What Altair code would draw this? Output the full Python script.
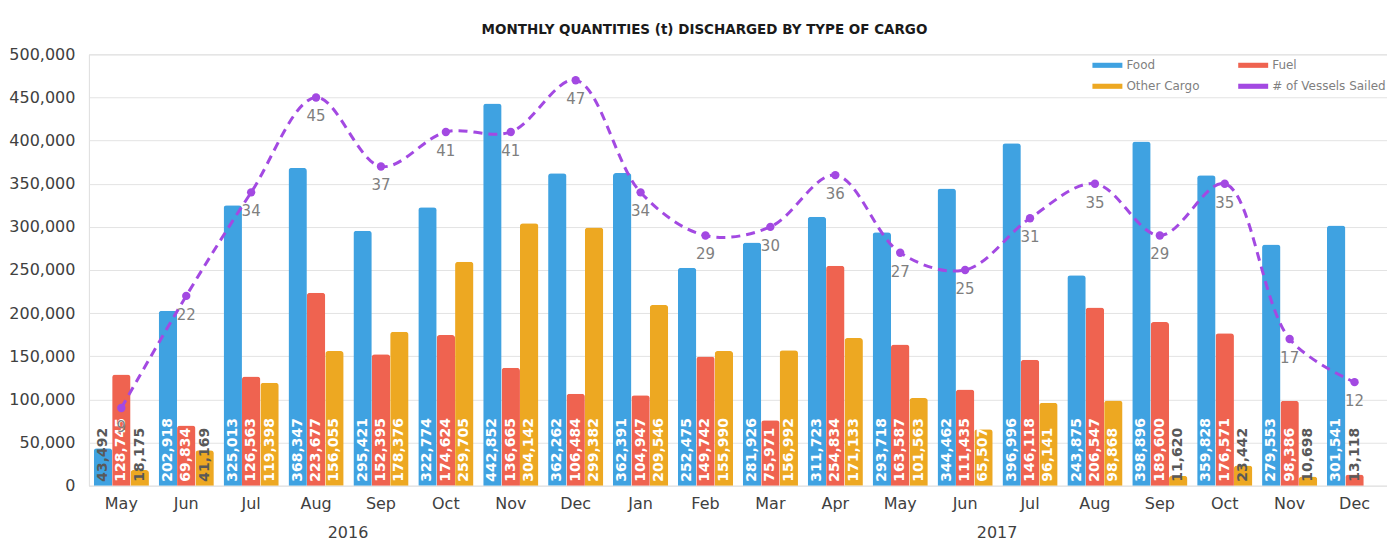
import altair as alt
import pandas as pd

months = ["May", "Jun", "Jul", "Aug", "Sep", "Oct", "Nov", "Dec",
          "Jan", "Feb", "Mar", "Apr", "May", "Jun", "Jul", "Aug", "Sep", "Oct", "Nov", "Dec"]
years = ["2016"] * 8 + ["2017"] * 12
food = [43492, 202918, 325013, 368347, 295421, 322774, 442852, 362262,
        362391, 252475, 281926, 311723, 293718, 344462, 396996, 243875, 398896, 359828, 279553, 301541]
fuel = [128745, 69834, 126563, 223677, 152395, 174624, 136665, 106484,
        104947, 149742, 75971, 254834, 163587, 111435, 146118, 206547, 189600, 176571, 98386, 13118]
other = [18175, 41169, 119398, 156055, 178376, 259705, 304142, 299382,
         209546, 155990, 156992, 171133, 101563, 65507, 96141, 98868, 11620, 23442, 10698, None]
vessels = [9, 22, 34, 45, 37, 41, 41, 47, 34, 29, 30, 36, 27, 25, 31, 35, 29, 35, 17, 12]
series = ["Food", "Fuel", "Other Cargo"]
line_name = "# of Vessels Sailed"
series_colors = {"Food": "#3FA2E1", "Fuel": "#EF6350", "Other Cargo": "#EDA822",
                 line_name: "#A349E2"}
legend_order = ["Food", "Other Cargo", "Fuel", line_name]
year_labels = ["2016", "2017"]
year_anchor = ["Aug 2016", "Jun 2017"]
y_ticks = [0, 50000, 100000, 150000, 200000, 250000, 300000, 350000, 400000, 450000, 500000]

keys = [f"{m} {y}" for m, y in zip(months, years)]
rows = []
for i, k in enumerate(keys):
    for s, vals in zip(series, [food, fuel, other]):
        v = vals[i]
        if v is not None:
            rows.append({"key": k, "type": s, "value": v})
bars_df = pd.DataFrame(rows)
line_df = pd.DataFrame({"key": keys, "vessels": vessels})
year_df = pd.DataFrame({"key": year_anchor, "year": year_labels})

W, H = 1300, 432
FONT = "DejaVu Sans"

x_enc = alt.X("key:N", sort=keys,
              scale=alt.Scale(paddingInner=0.15, paddingOuter=0.075),
              axis=alt.Axis(title=None, labelExpr="split(datum.label, ' ')[0]", labelAngle=0,
                            labelFontSize=16, labelColor="#404040", labelPadding=10,
                            ticks=False, domain=False, labelFont=FONT))
x_plain = alt.X("key:N", sort=keys)

y_axis = alt.Axis(title=None, format=",.0f", values=y_ticks, labelFontSize=16,
                  labelColor="#404040", labelPadding=14, ticks=False, domain=False,
                  gridColor="#E3E3E3", minExtent=81, maxExtent=81, labelFont=FONT)

color_scale = alt.Scale(domain=legend_order, range=[series_colors[s] for s in legend_order])
legend = alt.Legend(title=None, orient="none", legendX=1005, legendY=-4, columns=2,
                    columnPadding=38, symbolType="M-1,-0.17H1V0.17H-1Z", symbolSize=900,
                    symbolStrokeWidth=0, labelFontSize=12, labelColor="#7F7F7F",
                    labelFont=FONT, rowPadding=-6)

bars = alt.Chart(bars_df).mark_bar(cornerRadiusTopLeft=3, cornerRadiusTopRight=3).encode(
    x=x_enc,
    xOffset=alt.XOffset("type:N", sort=series, scale=alt.Scale(paddingInner=0, paddingOuter=0)),
    y=alt.Y("value:Q", scale=alt.Scale(domain=[0, 500000]), axis=y_axis),
    color=alt.Color("type:N", scale=color_scale, legend=legend),
)

bar_labels = alt.Chart(bars_df).mark_text(
    angle=270, align="left", baseline="middle", dx=4, font=FONT, fontSize=14, fontWeight="bold"
).encode(
    x=x_plain,
    xOffset=alt.XOffset("type:N", sort=series),
    y=alt.YDatum(0, axis=y_axis),
    text=alt.Text("value:Q", format=","),
    color=alt.condition(alt.datum.value < 50000, alt.value("#595959"), alt.value("white")),
)

year_text = alt.Chart(year_df).mark_text(
    dx=32, fontSize=16, font=FONT, color="#404040", baseline="middle"
).encode(x=x_plain, y=alt.value(H + 47), text="year:N")

line_y = alt.Y("vessels:Q", scale=alt.Scale(domain=[0, 50]), axis=None)
line = alt.Chart(line_df).mark_line(
    interpolate="catmull-rom", strokeDash=[9, 6], strokeWidth=3
).encode(x=x_plain, y=line_y, color=alt.datum(line_name))
pts = alt.Chart(line_df).mark_circle(size=70, opacity=1, color=series_colors[line_name]).encode(
    x=x_plain, y=line_y)
line_labels = alt.Chart(line_df).mark_text(
    dy=19, fontSize=15, font=FONT, color="#7F7F7F"
).encode(x=x_plain, y=line_y, text="vessels:Q")

left = alt.layer(bars, bar_labels, year_text)
right = alt.layer(line, pts, line_labels)

chart = alt.layer(left, right).resolve_scale(y="independent").properties(
    width=W, height=H,
    title=alt.TitleParams("MONTHLY QUANTITIES (t) DISCHARGED BY TYPE OF CARGO", fontSize=13.5,
                          font=FONT, fontWeight="bold", color="#1A1A1A", anchor="middle",
                          frame="bounds", offset=10, dx=7),
    padding={"left": 0, "top": 14, "right": 0, "bottom": 0},
).configure_view(stroke=None).configure(background="white").configure_axisY(format=",.0f")

chart.save("out.html", embed_options={"renderer": "svg", "actions": False})
